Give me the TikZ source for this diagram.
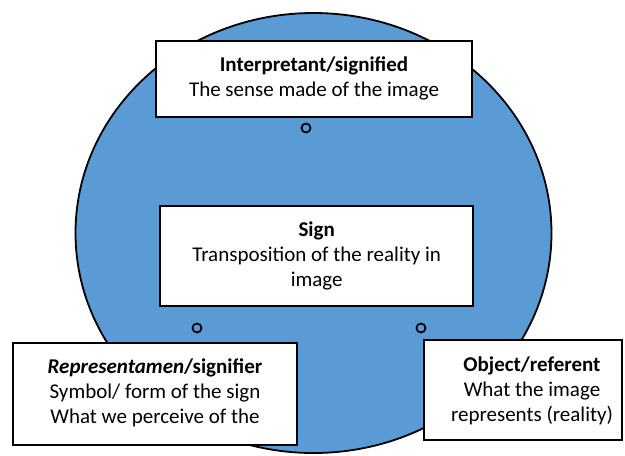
\documentclass[tikz,border=0pt]{standalone}
\usepackage{fontspec}
\setmainfont{Carlito}
\definecolor{circleblue}{HTML}{5B9BD5}
\tikzset{
  box/.style={draw=black, line width=1.8pt, fill=white, rectangle, inner sep=0pt},
  txt/.style={align=center, inner sep=0pt, anchor=base, font=\fontsize{21}{25}\selectfont},
  dot/.style={circle, draw=black, line width=1.8pt, minimum size=9pt, inner sep=0pt},
}
\begin{document}
\begin{tikzpicture}[x=1pt, y=-1pt]
  \useasboundingbox (0,0) rectangle (625,456);
  % background circle of the triad
  \draw[fill=circleblue, line width=1.8pt] (313.5,233) ellipse [x radius=238, y radius=220];

  % boxes
  \node[box, minimum width=316pt, minimum height=76pt] (interp) at (314,79) {};
  \node[box, minimum width=313pt, minimum height=100pt] (sign) at (316.5,256) {};
  \node[box, minimum width=284pt, minimum height=102pt] (repr) at (155,394) {};
  \node[box, minimum width=198pt, minimum height=100pt] (obj) at (523,390) {};

  % texts (anchored on the baseline of their last line)
  \node[txt] (interpT) at (314,96.7) {\textbf{Interpretant/signified}\\The sense made of the image};
  \node[txt] (signT) at (316.7,286.7) {\textbf{Sign}\\Transposition of the reality in\\image};
  \node[txt] (reprT) at (155,423) {\textbf{\textit{Representamen}/signifier}\\Symbol/ form of the sign\\What we perceive of the};
  \node[txt] (objT) at (532,421.7) {\textbf{Object/referent}\\What the image\\represents (reality)};

  % small rings
  \node[dot] (r1) at (306,128) {};
  \node[dot] (r2) at (197,328) {};
  \node[dot] (r3) at (421,328) {};
\end{tikzpicture}
\end{document}
